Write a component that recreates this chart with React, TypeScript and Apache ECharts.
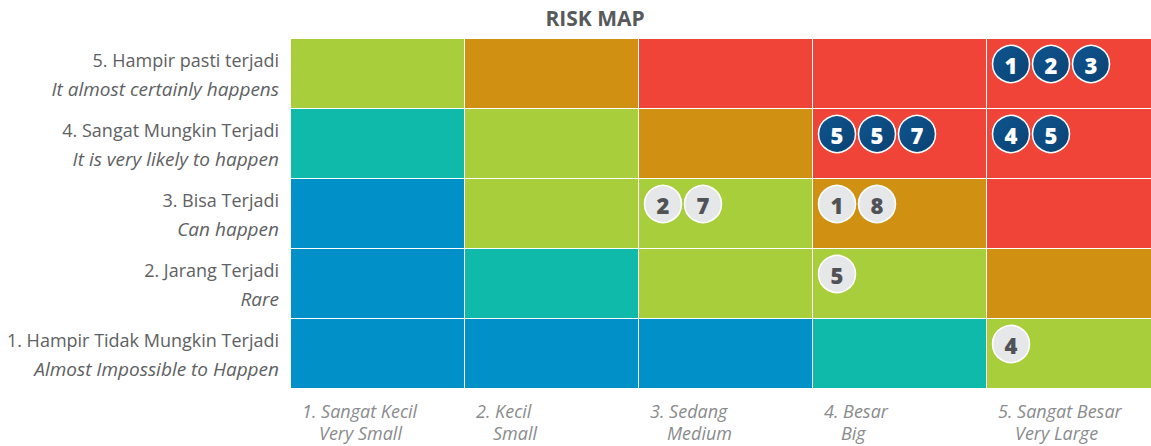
import React, { useEffect, useRef } from "react";
import * as echarts from "echarts";

const titleText = "RISK MAP";

// Impact (x) labels
const xLine1 = ["1. Sangat Kecil", "2. Kecil", "3. Sedang", "4. Besar", "5. Sangat Besar"];
const xLine2 = ["Very Small", "Small", "Medium", "Big", "Very Large"];

// Likelihood (y) labels, bottom to top
const yLine1 = [
  "1. Hampir Tidak Mungkin Terjadi",
  "2. Jarang Terjadi",
  "3. Bisa Terjadi",
  "4. Sangat Mungkin Terjadi",
  "5. Hampir pasti terjadi",
];
const yLine2 = [
  "Almost Impossible to Happen",
  "Rare",
  "Can happen",
  "It is very likely to happen",
  "It almost certainly happens",
];

// Risk level per cell: rows = likelihood 1..5 (bottom to top), cols = impact 1..5
const riskLevels = [
  [1, 1, 1, 2, 3],
  [1, 2, 3, 3, 4],
  [1, 3, 3, 4, 5],
  [2, 3, 4, 5, 5],
  [3, 4, 5, 5, 5],
];
const levelColors = ["", "#0290C8", "#10BAAB", "#A8CE3B", "#D09112", "#EF4437"];

// Badges: impact column index, likelihood row index, labels, kind
const badgeCols = [4, 3, 4, 2, 3, 3, 4];
const badgeRows = [4, 3, 3, 2, 2, 1, 0];
const badgeLabels = [["1", "2", "3"], ["5", "5", "7"], ["4", "5"], ["2", "7"], ["1", "8"], ["5"], ["4"]];
const badgeKinds = ["dark", "dark", "dark", "light", "light", "light", "light"];

export default function App() {
  const ref = useRef<HTMLDivElement>(null);
  useEffect(() => {
    if (!ref.current) return;
    const chart = echarts.init(ref.current, undefined, { renderer: "svg" });

    const cellData: any[] = [];
    riskLevels.forEach((row, r) => row.forEach((lv, c) => cellData.push([c, r, lv])));

    const badgeData: any[] = [];
    badgeCols.forEach((c, g) => {
      badgeLabels[g].forEach((lab, i) => {
        badgeData.push([c, badgeRows[g], i, lab, badgeKinds[g]]);
      });
    });

    const font = "'Open Sans', 'Noto Sans', sans-serif";

    const option: any = {
      animation: false,
      grid: { left: 291, top: 39, width: 870, height: 350, containLabel: false },
      graphic: [
        {
          type: "text",
          x: 595,
          y: 18,
          style: {
            text: titleText,
            fill: "#58595b",
            font: `bold 21px ${font}`,
            align: "center",
            verticalAlign: "middle",
          },
        },
      ],
      xAxis: {
        type: "value",
        min: 0,
        max: 5,
        interval: 1,
        axisLine: { show: false },
        axisTick: { show: false },
        splitLine: { show: false },
        axisLabel: {
          align: "left",
          margin: 11,
          showMaxLabel: false,
          formatter: (v: number) => {
            const i = Math.round(v);
            if (i < 0 || i > 4) return "";
            return `{a|${xLine1[i]}}\n{b|${xLine2[i]}}`;
          },
          rich: {
            a: { fontFamily: font, fontSize: 18, fontStyle: "italic", color: "#8a8b8d", lineHeight: 22, padding: [0, 0, 0, 11] },
            b: { fontFamily: font, fontSize: 18, fontStyle: "italic", color: "#8a8b8d", lineHeight: 22, padding: [0, 0, 0, 28] },
          },
        },
      },
      yAxis: {
        type: "category",
        data: yLine1,
        axisLine: { show: false },
        axisTick: { show: false },
        splitLine: { show: false },
        axisLabel: {
          margin: 12,
          align: "right",
          formatter: (_v: string, idx: number) => `{a|${yLine1[idx]}}\n{b|${yLine2[idx]}}`,
          rich: {
            a: { fontFamily: font, fontSize: 18, color: "#606163", lineHeight: 30, padding: [2, 0, 0, 0] },
            b: { fontFamily: font, fontSize: 19, fontStyle: "italic", color: "#606163", lineHeight: 30 },
          },
        },
      },
      series: [
        {
          type: "custom",
          renderItem: (_params: any, api: any) => {
            const c = api.value(0);
            const r = api.value(1);
            const lv = api.value(2);
            const p0 = api.coord([c, r]);
            const p1 = api.coord([c + 1, r]);
            const h = api.size([0, 1])[1];
            return {
              type: "rect",
              shape: { x: p0[0], y: p0[1] - h / 2, width: p1[0] - p0[0] - 1, height: h - 1 },
              style: { fill: levelColors[lv] },
            };
          },
          data: cellData,
          z: 1,
        },
        {
          type: "custom",
          renderItem: (_params: any, api: any) => {
            const c = api.value(0);
            const r = api.value(1);
            const i = api.value(2);
            const lab = api.value(3);
            const kind = api.value(4);
            const p0 = api.coord([c, r]);
            const h = api.size([0, 1])[1];
            const cx = p0[0] + 24 + i * 40;
            const cy = p0[1] - h / 2 + 25;
            const dark = kind === "dark";
            return {
              type: "group",
              children: [
                {
                  type: "circle",
                  shape: { cx, cy, r: 18.5 },
                  style: {
                    fill: dark
                      ? new echarts.graphic.LinearGradient(0, 0, 1, 1, [
                          { offset: 0, color: "#0F5590" },
                          { offset: 1, color: "#0A4272" },
                        ])
                      : "#E6E7E9",
                    stroke: "#ffffff",
                    lineWidth: 1.5,
                  },
                },
                {
                  type: "text",
                  x: cx,
                  y: cy + 1,
                  style: {
                    text: String(lab),
                    fill: dark ? "#ffffff" : "#505256",
                    font: `800 22px 'Open Sans', sans-serif`,
                    align: "center",
                    verticalAlign: "middle",
                  },
                },
              ],
            };
          },
          dimensions: ["x", "y", "i", "label", "kind"],
          data: badgeData,
          z: 2,
        },
      ],
    };
    chart.setOption(option);
    return () => chart.dispose();
  }, []);
  return (
    <div
      ref={ref}
      style={{ position: "fixed", left: 0, top: 0, width: 1170, height: 446, background: "#ffffff" }}
    />
  );
}
